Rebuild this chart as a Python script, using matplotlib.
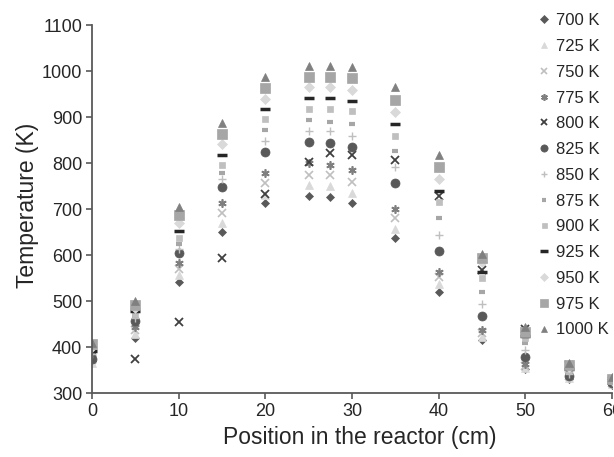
import numpy as np
import matplotlib
matplotlib.use('Agg')
import matplotlib.pyplot as plt

plt.rcParams['font.family'] = ['Liberation Sans', 'DejaVu Sans']

# positions along the reactor (cm)
position = [0, 5, 10, 15, 20, 25, 27.5, 30, 35, 40, 45, 50, 55, 60]

t700 = [370, 419, 542, 651, 712, 728, 727, 714, 636, 520, 415, 352, 330, 318]
t725 = [365, 428, 556, 669, 730, 752, 750, 735, 657, 538, 422, 355, 333, 320]
t750 = [372, 437, 569, 692, 756, 775, 774, 759, 680, 553, 431, 358, 336, 322]
t775 = [378, 444, 583, 714, 779, 800, 796, 785, 701, 564, 437, 362, 338, 323]
t800 = [380, 374, 454, 594, 733, 802, 821, 818, 807, 728, 568, 440, 360, 326]
t825 = [375, 457, 604, 748, 825, 845, 844, 834, 756, 609, 467, 378, 337, 322]
t850 = [385, 462, 613, 765, 848, 870, 870, 859, 791, 643, 493, 393, 342, 324]
t875 = [390, 468, 625, 779, 872, 893, 890, 885, 826, 680, 520, 408, 346, 326]
t900 = [395, 472, 636, 796, 895, 917, 917, 913, 859, 716, 549, 420, 350, 327]
t925 = [392, 479, 653, 817, 917, 941, 941, 935, 885, 740, 562, 425, 352, 328]
t950 = [400, 485, 670, 841, 939, 965, 965, 959, 911, 765, 585, 435, 356, 329]
t975 = [406, 491, 688, 863, 962, 988, 988, 984, 937, 792, 593, 433, 360, 330]
t1000 = [408, 501, 705, 886, 988, 1010, 1010, 1008, 965, 817, 603, 444, 366, 334]

labels = ['700 K', '725 K', '750 K', '775 K', '800 K', '825 K', '850 K',
          '875 K', '900 K', '925 K', '950 K', '975 K', '1000 K']
series = [t700, t725, t750, t775, t800, t825, t850, t875, t900, t925, t950, t975, t1000]

# marker, size, colour, edge width
styles = [
    ('D', 4.5, '#595959', 0.5),
    ('^', 6, '#d9d9d9', 0.5),
    ('x', 5.5, '#bfbfbf', 1.2),
    ((6, 2, 0), 6, '#7f7f7f', 1.2),
    ('x', 5.5, '#404040', 1.3),
    ('o', 6.5, '#595959', 0.5),
    ('+', 6, '#bfbfbf', 1.0),
    ('_', 4, '#a6a6a6', 3.0),
    ('s', 4.5, '#bfbfbf', 0.5),
    ('_', 7, '#262626', 2.5),
    ('D', 5, '#d9d9d9', 0.5),
    ('s', 6.5, '#a6a6a6', 0.5),
    ('^', 6, '#808080', 0.5),
]

fig = plt.figure(figsize=(6.14, 4.57), dpi=100)
ax = fig.add_axes([92/614, 1-393/457, 520/614, 368/457])

for vals, lab, (m, ms, c, mew) in zip(series, labels, styles):
    ax.plot(position, vals, linestyle='none', marker=m, markersize=ms,
            color=c, markeredgecolor=c, markeredgewidth=mew, label=lab)

ax.set_xlim(0, 60)
ax.set_ylim(300, 1100)
ax.set_xticks(np.arange(0, 61, 10))
ax.set_yticks(np.arange(300, 1101, 100))
ax.spines['top'].set_visible(False)
ax.spines['right'].set_visible(False)
for s in ['left', 'bottom']:
    ax.spines[s].set_color('#595959')
    ax.spines[s].set_linewidth(1.3)
ax.tick_params(direction='out', length=4, width=1.2, color='#595959',
               labelsize=13, labelcolor='#262626', pad=3)
ax.set_xlabel('Position in the reactor (cm)', fontsize=16.5, color='#262626')
ax.set_ylabel('Temperature (K)', fontsize=16.5, color='#262626')
ax.xaxis.set_label_coords(0.515, -0.091)
ax.yaxis.set_label_coords(-0.102, 0.51)

ax.legend(loc='upper left', bbox_to_anchor=(529/614, 1-5/457),
          bbox_transform=fig.transFigure, frameon=False, fontsize=12,
          handlelength=0.8, handletextpad=0.3, labelspacing=0.645,
          borderpad=0, markerscale=0.8, labelcolor='#262626')

fig.savefig('out.png', dpi=100)
